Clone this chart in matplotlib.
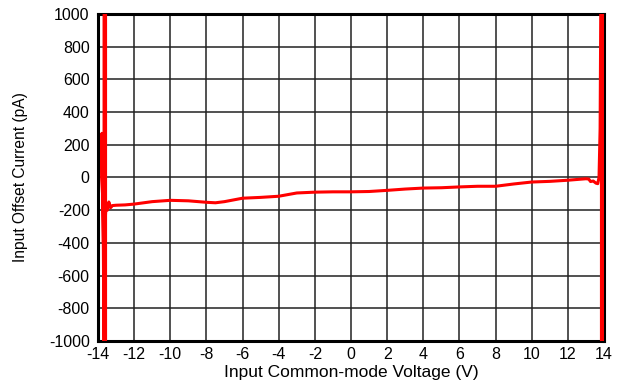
import matplotlib
matplotlib.use('Agg')
import matplotlib.pyplot as plt

plt.rcParams['font.family'] = ['Liberation Sans', 'DejaVu Sans']
plt.rcParams['axes.unicode_minus'] = False

# Offset current sweep vs. common-mode voltage (V, pA)
vcm = [-13.66, -13.66, -13.72, -13.80, -13.78, -13.70, -13.62, -13.55, -13.48,
       -13.40, -13.30, -13.20, -13.00, -12.50, -12.00, -11.00, -10.00, -9.00,
       -8.00, -7.50, -7.00, -6.00, -5.00, -4.00, -3.00, -2.00, -1.00, 0.00,
       1.00, 2.00, 3.00, 4.00, 5.00, 6.00, 7.00, 8.00, 9.00, 10.00, 11.00,
       12.00, 13.00, 13.15, 13.25, 13.40, 13.55, 13.65, 13.72, 13.78, 13.82]
ios = [1100, -1100, -150, 0, 270, -400, -300, -160, -200,
       -150, -185, -172, -170, -168, -163, -148, -140, -143,
       -152, -155, -148, -127, -122, -115, -95, -90, -88, -88,
       -86, -79, -71, -65, -63, -58, -54, -54, -40, -28, -24,
       -17, -8, -10, -25, -22, -35, -38, 0, 300, 1100]
# rail lines where the inputs saturate
rail_v = [-13.62, 13.9]

xticks = list(range(-14, 15, 2))
yticks = list(range(-1000, 1001, 200))

fig = plt.figure(figsize=(6.26, 3.87), dpi=100)
ax = fig.add_axes([0.1565, 0.119, 0.8085, 0.845])

for xv in rail_v:
    ax.plot([xv, xv], [-1100, 1100], color='#ff0000', lw=3.0, zorder=3)
ax.plot(vcm, ios, color='#ff0000', lw=2.2, zorder=3, solid_joinstyle='round')

ax.set_xlim(-14, 14)
ax.set_ylim(-1000, 1000)
ax.set_xticks(xticks)
ax.set_yticks(yticks)
ax.grid(True, color='#222222', lw=1.1)
ax.set_axisbelow(True)
ax.tick_params(length=0, labelsize=11.5)
ax.tick_params(axis='x', pad=4)
ax.tick_params(axis='y', pad=6)
for s in ax.spines.values():
    s.set_linewidth(2.2)
    s.set_color('black')

ax.set_xlabel('Input Common-mode Voltage (V)', fontsize=12.5, va='center')
ax.xaxis.set_label_coords(0.5, -0.098)
ax.set_ylabel('Input Offset Current (pA)', fontsize=11.2, va='center')
ax.yaxis.set_label_coords(-0.154, 0.5)

fig.savefig('out.png', dpi=100)
